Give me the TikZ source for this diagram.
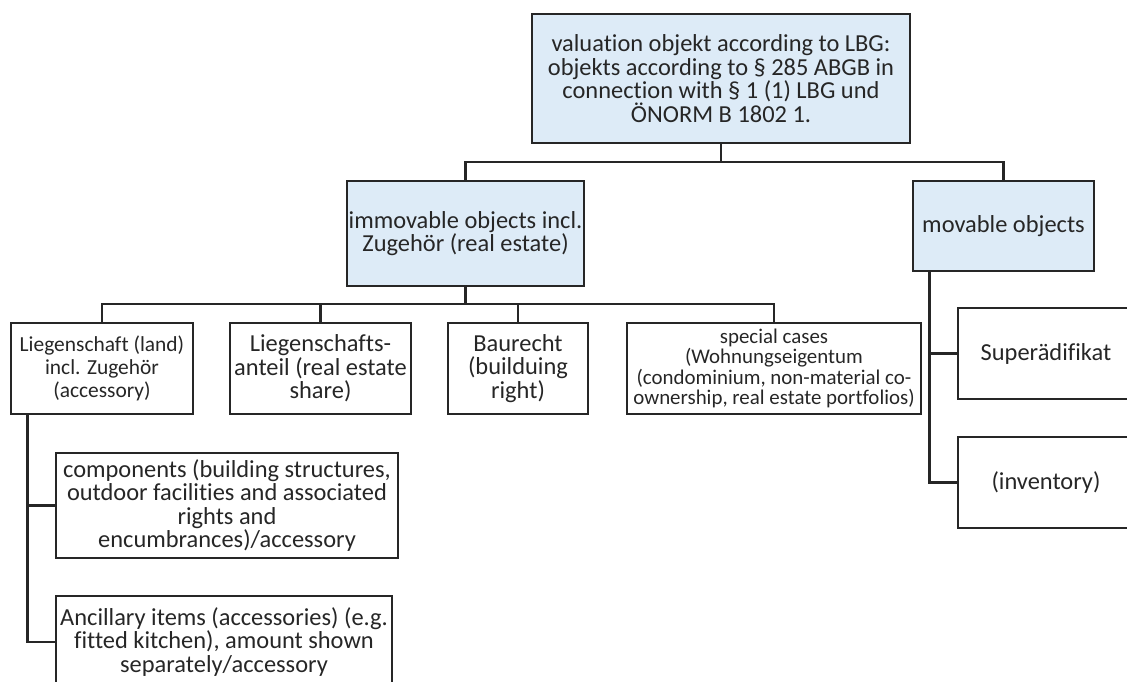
\documentclass[tikz,border=0pt]{standalone}
\usepackage{fontspec}
\setmainfont{Carlito}[Ligatures=NoCommon]
\definecolor{boxline}{RGB}{38,38,38}
\definecolor{boxblue}{RGB}{221,235,247}
\begin{document}
\begin{tikzpicture}[x=0.02cm, y=-0.02cm,
    box/.style={draw=boxline, line width=1.5pt, align=center, inner sep=1pt,
        font=\fontsize{13.9pt}{13.4pt}\selectfont, text=boxline},
    bluebox/.style={box, fill=boxblue},
    smalltext/.style={font=\fontsize{11.9pt}{11.6pt}\selectfont},
    link/.style={draw=boxline, line width=1.5pt}]
\useasboundingbox (0,0) rectangle (1127,682);
\clip (0,0) rectangle (1127,682);
% first level
\node[bluebox, minimum width=7.56cm, minimum height=2.58cm] (top) at (721,78.5)
    {valuation objekt according to LBG:\\objekts according to \S\ 285 ABGB in\\connection with \S\ 1 (1) LBG und\\ÖNORM B 1802 1.};
\node[bluebox, minimum width=4.7cm, minimum height=2.1cm] (imm) at (465.5,233.5)
    {immovable objects incl.\\Zugehör (real estate)};
\node[bluebox, minimum width=3.62cm, minimum height=1.8cm] (mov) at (1003.5,226)
    {movable objects};
% real estate
\node[box, minimum width=3.64cm, minimum height=1.82cm,
    font=\fontsize{12.2pt}{13pt}\selectfont] (liegen) at (102,368.5)
    {Liegenschaft (land)\\incl. Zugehör\\(accessory)};
\node[box, minimum width=3.62cm, minimum height=1.82cm] (anteil) at (320.5,368.5)
    {Liegenschafts-\\anteil (real estate\\share)};
\node[box, minimum width=2.8cm, minimum height=1.82cm] (baurecht) at (518,368.5)
    {Baurecht\\(builduing\\right)};
\node[box, smalltext, minimum width=5.88cm, minimum height=1.82cm] (special) at (774,368.5)
    {special cases\\(Wohnungseigentum\\(condominium, non-material co-\\ownership, real estate portfolios)};
\node[box, minimum width=6.84cm, minimum height=2.1cm] (comp) at (227,505.5)
    {components (building structures,\\outdoor facilities and associated\\rights and\\encumbrances)/accessory};
\node[box, minimum width=6.72cm, minimum height=1.84cm] (ancil) at (224,642)
    {Ancillary items (accessories) (e.g.\\fitted kitchen), amount shown\\separately/accessory};
% movables
\node[box, minimum width=3.52cm, minimum height=1.82cm] (super) at (1046,353.5)
    {Superädifikat};
\node[box, minimum width=3.52cm, minimum height=1.82cm] (inv) at (1046,482.5)
    {(inventory)};
% connectors
\coordinate (bus1) at (721,162);
\coordinate (bus2) at (465.5,304);
\coordinate (lstem) at ([xshift=0.36cm]liegen.south west);
\coordinate (mstem) at ([xshift=0.36cm]mov.south west);
\draw[link] (top.south) -- (bus1) -| (imm.north);
\draw[link] (bus1) -| (mov.north);
\draw[link] (imm.south) -- (bus2);
\foreach \n in {liegen,anteil,baurecht,special}
    \draw[link] (bus2) -| (\n.north);
\draw[link] (lstem) |- (comp.west);
\draw[link] (lstem) |- (ancil.west);
\draw[link] (mstem) |- (super.west);
\draw[link] (mstem) |- (inv.west);
\end{tikzpicture}
\end{document}
